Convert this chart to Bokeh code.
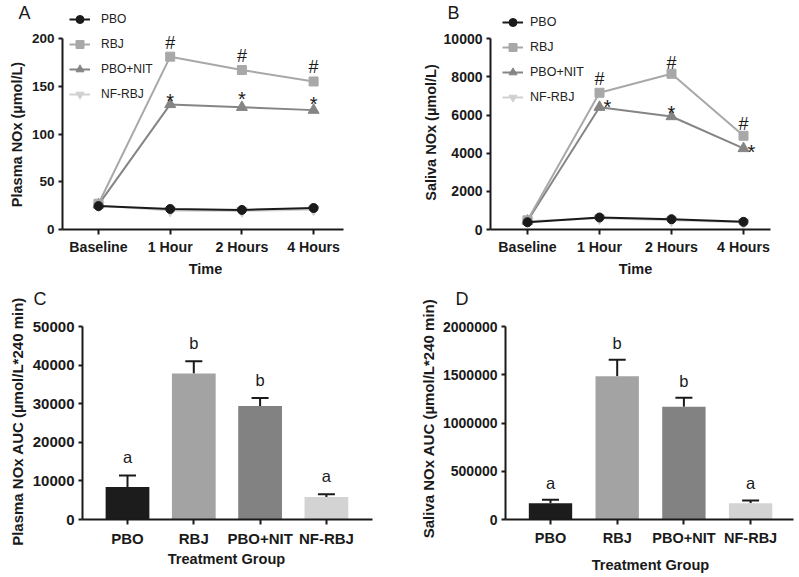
import math
from bokeh.plotting import figure
from bokeh.models import (Range1d, FixedTicker, Legend, LegendItem, Label, Whisker,
                          ColumnDataSource, TeeHead, NumeralTickFormatter)
from bokeh.layouts import row, column
from bokeh.embed import file_html
from bokeh.resources import INLINE
from bokeh.core.properties import value

# ---------------- data ----------------
time_labels = ["Baseline", "1 Hour", "2 Hours", "4 Hours"]
groups = ["PBO", "RBJ", "PBO+NIT", "NF-RBJ"]

plasma_pbo = [24.5, 21.5, 20.5, 22.5]
plasma_rbj = [27, 181, 167, 155]
plasma_nit = [26, 131, 128, 125]
plasma_nf = [25, 20, 19.5, 21]

saliva_pbo = [380, 630, 540, 400]
saliva_rbj = [480, 7170, 8165, 4915]
saliva_nit = [450, 6415, 5925, 4250]
saliva_nf = [430, 590, 480, 380]

rbj_marks = ["", "#", "#", "#"]
nit_marks = ["", "*", "*", "*"]

plasma_auc_mean = [8400, 37800, 29400, 5800]
plasma_auc_sem = [3000, 3200, 2100, 750]
saliva_auc_mean = [169000, 1485000, 1168000, 169000]
saliva_auc_sem = [35000, 170000, 93000, 28000]
plasma_auc_letters = ["a", "b", "b", "a"]
saliva_auc_letters = ["a", "b", "b", "a"]

plasma_yticks = [0, 50, 100, 150, 200]
saliva_yticks = [0, 2000, 4000, 6000, 8000, 10000]
plasma_auc_yticks = [0, 10000, 20000, 30000, 40000, 50000]
saliva_auc_yticks = [0, 500000, 1000000, 1500000, 2000000]

# ---------------- style ----------------
FONT = "Liberation Sans"
INK = "#1a1a1a"
line_styles = {
    "PBO": (INK, "circle", 9),
    "RBJ": ("#a8a8a8", "square", 9),
    "PBO+NIT": ("#858585", "triangle", 11),
    "NF-RBJ": ("#d0d0d0", "inverted_triangle", 11),
}
bar_colors = ["#1c1c1c", "#a3a3a3", "#828282", "#d3d3d3"]


class Geo:
    """Pixel geometry of one panel (canvas = frame)."""
    def __init__(self, cx0, cy0, w, h, cat0, spacing, zero_y, ppu, yaxis_px, xend_px):
        self.cx0, self.cy0, self.w, self.h = cx0, cy0, w, h
        self.cat0, self.spacing, self.zero_y, self.ppu = cat0, spacing, zero_y, ppu
        self.yaxis_px, self.xend_px = yaxis_px, xend_px

    def dx(self, px):
        return (px - self.cat0) / self.spacing

    def sx(self, px):
        return px - self.cx0

    def sy(self, py):
        return self.cy0 + self.h - py


def base_figure(g, cats, yticks, ybound, tick_fs, xtick_fs, xstandoff):
    p = figure(width=g.w, height=g.h,
               x_range=Range1d(g.dx(g.cx0), g.dx(g.cx0 + g.w)),
               y_range=Range1d(-(g.cy0 + g.h - g.zero_y) / g.ppu, (g.zero_y - g.cy0) / g.ppu),
               output_backend="svg", toolbar_location=None, min_border=0)
    p.title.visible = False
    p.outline_line_color = None
    p.xgrid.visible = False
    p.ygrid.visible = False
    for ax in (p.xaxis[0], p.yaxis[0]):
        ax.axis_line_width = 2
        ax.axis_line_color = INK
        ax.major_tick_line_width = 2
        ax.major_tick_line_color = INK
        ax.major_tick_in = 0
        ax.major_tick_out = 5
        ax.minor_tick_line_color = None
        ax.major_label_text_font = FONT
        ax.major_label_text_font_style = "bold"
        ax.major_label_text_color = INK
    yax = p.yaxis[0]
    yax.fixed_location = g.dx(g.yaxis_px)
    yax.ticker = FixedTicker(ticks=yticks)
    yax.bounds = (0, ybound)
    yax.major_tick_out = 4
    yax.major_label_standoff = 4
    yax.major_label_text_font_size = tick_fs
    yax.formatter = NumeralTickFormatter(format="0")
    xax = p.xaxis[0]
    xax.fixed_location = 0
    xax.bounds = (g.dx(g.yaxis_px), g.dx(g.xend_px))
    xax.ticker = FixedTicker(ticks=list(range(len(cats))))
    xax.major_label_overrides = {i: t for i, t in enumerate(cats)}
    xax.major_label_standoff = xstandoff
    xax.major_label_text_font_size = xtick_fs
    return p


def add_text(p, g, text, px, py, size, bold=False, angle=0.0, align="center",
             baseline="middle"):
    p.add_layout(Label(x=g.sx(px), y=g.sy(py), x_units="screen", y_units="screen",
                       text=text, angle=angle, text_font=FONT, text_font_size=size,
                       text_font_style="bold" if bold else "normal", text_color=INK,
                       text_align=align, text_baseline=baseline))


def line_panel(g, letter, letter_pos, series, ylabel, ylabel_pos, xlabel_pos, yticks,
               ybound, tick_fs, legend_pos, legend_fs, legend_standoff, hash_yoff,
               star_xoff, star_yoff):
    p = base_figure(g, time_labels, yticks, ybound, tick_fs, "14.2px", 4)
    xs = list(range(len(time_labels)))
    rends = {}
    for name in ["NF-RBJ", "PBO+NIT", "RBJ", "PBO"]:
        c, m, s = line_styles[name]
        l = p.line(xs, series[name], line_width=2, line_color=c)
        sc = p.scatter(xs, series[name], marker=m, size=s, fill_color=c, line_color=c)
        rends[name] = [l, sc]
    src_h = ColumnDataSource(dict(x=xs, y=series["RBJ"], t=rbj_marks, yo=hash_yoff))
    p.text(x="x", y="y", text="t", source=src_h, text_align="center",
           text_baseline="alphabetic", y_offset="yo", text_font=value(FONT),
           text_font_size="18px", text_color=INK)
    src_s = ColumnDataSource(dict(x=xs, y=series["PBO+NIT"], t=nit_marks,
                                  xo=star_xoff, yo=star_yoff))
    p.text(x="x", y="y", text="t", source=src_s, text_align="center",
           text_baseline="alphabetic", x_offset="xo", y_offset="yo",
           text_font=value(FONT), text_font_size="20px", text_color=INK)
    items = [LegendItem(label=n, renderers=rends[n]) for n in groups]
    lx, ltop = legend_pos
    leg = Legend(items=items, location=(g.sx(lx), g.sy(ltop) - 95), padding=0, margin=0,
                 spacing=5, glyph_width=21, glyph_height=20, label_height=20,
                 label_standoff=legend_standoff, border_line_color=None,
                 background_fill_alpha=0, label_text_font=FONT,
                 label_text_font_size=legend_fs, label_text_color="#222222")
    p.add_layout(leg, "center")
    add_text(p, g, letter, letter_pos[0], letter_pos[1], "18px", align="left",
             baseline="top")
    add_text(p, g, ylabel, ylabel_pos[0], ylabel_pos[1], "14.5px", bold=True,
             angle=math.pi / 2)
    add_text(p, g, "Time", xlabel_pos[0], xlabel_pos[1], "14.5px", bold=True)
    return p


def bar_panel(g, letter, letter_pos, mean, sem, letters, ylabel, ylabel_pos, xlabel_pos,
              yticks, ybound, tick_fs, xtick_fs, bar_w, letter_off):
    p = base_figure(g, groups, yticks, ybound, tick_fs, xtick_fs, 5)
    xs = list(range(len(groups)))
    upper = [m + s for m, s in zip(mean, sem)]
    src = ColumnDataSource(dict(x=xs, top=mean, up=upper, c=bar_colors, t=letters))
    p.add_layout(Whisker(source=src, base="x", lower="top", upper="up",
                         line_width=2, line_color=INK, lower_head=None,
                         upper_head=TeeHead(size=17, line_width=2, line_color=INK)))
    p.vbar(x="x", top="top", width=bar_w, source=src, fill_color="c", line_color=None)
    p.text(x="x", y="up", text="t", source=src, text_align="center",
           text_baseline="alphabetic", y_offset=letter_off, text_font=value(FONT),
           text_font_size="16.5px", text_color=INK)
    add_text(p, g, letter, letter_pos[0], letter_pos[1], "18px", align="left",
             baseline="top")
    add_text(p, g, ylabel, ylabel_pos[0], ylabel_pos[1], "15px", bold=True,
             angle=math.pi / 2)
    add_text(p, g, "Treatment Group", xlabel_pos[0], xlabel_pos[1], "14.6px", bold=True)
    return p


gA = Geo(0, 0, 399, 288, 98, 71.7, 229, 191 / 200, 62, 343)
gB = Geo(399, 0, 400, 288, 527, 72, 229, 190.7 / 10000, 490, 770)
gC = Geo(0, 288, 399, 289, 127, 66.3, 519, 193 / 50000, 82, 372)
gD = Geo(399, 288, 400, 289, 550, 66.7, 519, 193 / 2000000, 505, 793)

pA = line_panel(gA, "A", (18, 2),
                {"PBO": plasma_pbo, "RBJ": plasma_rbj, "PBO+NIT": plasma_nit,
                 "NF-RBJ": plasma_nf},
                "Plasma NOx (\u00b5mol/L)", (16, 134), (205, 268), plasma_yticks, 200,
                "13.5px", (69, 9), "12px", 11, [0, -14, -14, -14], [0, 0, 0, 0],
                [0, -3, -8, -6])
pB = line_panel(gB, "B", (447, 2),
                {"PBO": saliva_pbo, "RBJ": saliva_rbj, "PBO+NIT": saliva_nit,
                 "NF-RBJ": saliva_nf},
                "Saliva NOx (\u00b5mol/L)", (430, 132), (635, 268), saliva_yticks, 10000,
                "14px", (502, 12), "12.5px", 7, [0, -14, -11, -12], [0, 8, 0, 8],
                [0, 0, -4, 4])
pC = bar_panel(gC, "C", (33, 288), plasma_auc_mean, plasma_auc_sem, plasma_auc_letters,
               "Plasma NOx AUC (\u00b5mol/L*240 min)", (16.5, 421), (226, 558),
               plasma_auc_yticks, 50000, "15px", "15px", 0.66, -18)
pD = bar_panel(gD, "D", (455, 288), saliva_auc_mean, saliva_auc_sem, saliva_auc_letters,
               "Saliva NOx AUC (\u00b5mol/L*240 min)", (428, 418), (650, 564),
               saliva_auc_yticks, 2000000, "14px", "14.5px", 0.65, -17)

layout = column(row(pA, pB), row(pC, pD))
open("out.html", "w").write(file_html(layout, INLINE))
